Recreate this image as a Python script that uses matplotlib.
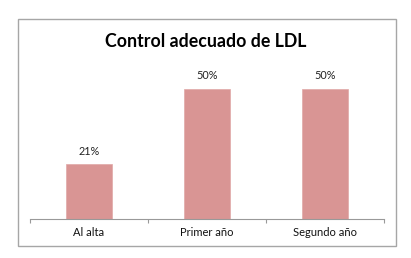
import matplotlib.pyplot as plt
from matplotlib.patches import Rectangle
from matplotlib.ticker import FixedLocator

categorias = ["Al alta", "Primer año", "Segundo año"]
valores = [21, 50, 50]
etiquetas = ["21%", "50%", "50%"]

plt.rcParams['font.family'] = ['Lato', 'DejaVu Sans']

fig = plt.figure(figsize=(4.11, 2.58), dpi=100)
W, H = 411, 258

# marco gris del gráfico
fig.patches.append(Rectangle((18 / W, 1 - 246 / H), 378 / W, 227 / H,
                             transform=fig.transFigure, fill=False,
                             edgecolor="#a6a6a6", linewidth=1.0))

ax = fig.add_axes([30 / W, 1 - 219 / H, 354 / W, 156 / H])
x = range(len(categorias))
ax.bar(x, valores, width=0.39, color="#d99594", edgecolor="#e0a8a7", linewidth=0.5)

for xi, v, t in zip(x, valores, etiquetas):
    ax.text(xi, v + 3, t, ha="center", va="bottom", fontsize=7.8, color="#222222")

ax.set_xlim(-0.5, 2.5)
ax.set_ylim(0, 60)
ax.set_xticks(list(x))
ax.set_xticklabels(categorias, fontsize=8, color="#111111")
ax.tick_params(axis="x", which="major", length=0, pad=6)
ax.xaxis.set_minor_locator(FixedLocator([-0.5, 0.5, 1.5, 2.5]))
ax.tick_params(axis="x", which="minor", length=3, color="#999999", width=0.8)
ax.set_yticks([])
for s in ["top", "right", "left"]:
    ax.spines[s].set_visible(False)
ax.spines["bottom"].set_color("#999999")
ax.spines["bottom"].set_linewidth(0.8)

fig.text(206 / W, 1 - 41 / H, "Control adecuado de LDL", ha="center", va="center",
         fontsize=12.8, fontweight="bold", color="#000000")

fig.savefig("out.png", dpi=100)
